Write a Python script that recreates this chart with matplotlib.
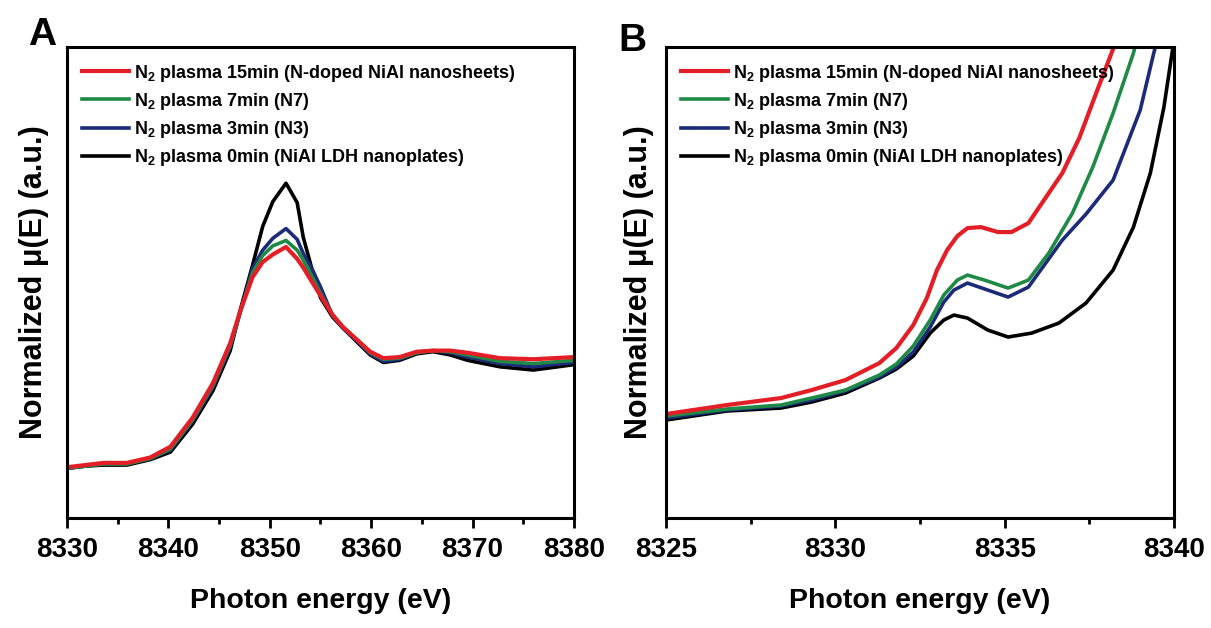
import matplotlib
matplotlib.use('Agg')
import matplotlib.pyplot as plt
from matplotlib.ticker import MultipleLocator

plt.rcParams['font.family'] = ['Liberation Sans', 'DejaVu Sans']
plt.rcParams['font.weight'] = 'bold'
plt.rcParams['axes.labelweight'] = 'bold'
plt.rcParams['mathtext.fontset'] = 'custom'
plt.rcParams['mathtext.rm'] = 'Liberation Sans:bold'
plt.rcParams['mathtext.bf'] = 'Liberation Sans:bold'
plt.rcParams['mathtext.it'] = 'Liberation Sans:bold'
plt.rcParams['mathtext.default'] = 'rm'

labels = ['N$_2$ plasma 15min (N-doped NiAl nanosheets)',
          'N$_2$ plasma 7min (N7)',
          'N$_2$ plasma 3min (N3)',
          'N$_2$ plasma 0min (NiAl LDH nanoplates)']
colors = ['#e41e26', '#1f8a45', '#1c2b78', '#000000']

# ---- panel A : full XANES (normalized units)
eA = [8330.0, 8331.8, 8333.6, 8335.9, 8338.2, 8340.2, 8342.4, 8344.4, 8346.1, 8347.1,
      8348.3, 8349.3, 8350.3, 8351.6, 8352.7, 8353.3, 8354.2, 8355.0, 8356.2, 8357.2,
      8358.6, 8359.9, 8361.2, 8362.8, 8364.5, 8366.1, 8367.8, 8369.5, 8372.7, 8376.0, 8380.0]
red_A = [-0.01, 0.01, 0.03, 0.03, 0.08, 0.18, 0.45, 0.77, 1.14, 1.44,
         1.75, 1.89, 1.96, 2.03, 1.92, 1.84, 1.70, 1.58, 1.40, 1.29,
         1.17, 1.06, 1.00, 1.01, 1.06, 1.07, 1.07, 1.05, 1.00, 0.99, 1.01]
green_A = [-0.02, 0.00, 0.02, 0.02, 0.07, 0.16, 0.43, 0.75, 1.12, 1.43,
           1.79, 1.95, 2.04, 2.09, 2.00, 1.91, 1.75, 1.60, 1.40, 1.29,
           1.17, 1.05, 0.99, 1.00, 1.05, 1.07, 1.06, 1.03, 0.97, 0.95, 0.98]
blue_A = [-0.02, 0.00, 0.02, 0.02, 0.07, 0.15, 0.42, 0.73, 1.10, 1.43,
          1.83, 2.00, 2.11, 2.20, 2.10, 1.97, 1.82, 1.66, 1.39, 1.28,
          1.16, 1.04, 0.97, 0.99, 1.05, 1.07, 1.05, 1.01, 0.95, 0.92, 0.96]
black_A = [-0.02, 0.00, 0.01, 0.01, 0.06, 0.13, 0.39, 0.70, 1.07, 1.45,
           1.86, 2.22, 2.45, 2.62, 2.44, 2.12, 1.81, 1.56, 1.38, 1.28,
           1.15, 1.03, 0.96, 0.98, 1.04, 1.06, 1.03, 0.98, 0.92, 0.89, 0.94]

# ---- panel B : pre-edge zoom (arbitrary units)
eB_red = [8325.0, 8326.8, 8328.4, 8329.3, 8330.3, 8331.3, 8331.8, 8332.3, 8332.7, 8333.0,
          8333.3, 8333.6, 8333.9, 8334.3, 8334.8, 8335.2, 8335.7, 8336.1, 8336.7, 8337.2,
          8337.7, 8338.3]
red_B = [0.006, 0.015, 0.022, 0.030, 0.040, 0.057, 0.072, 0.095, 0.122, 0.150,
         0.170, 0.184, 0.192, 0.193, 0.188, 0.188, 0.197, 0.217, 0.247, 0.282,
         0.327, 0.380]
eB_green = [8325.0, 8326.8, 8328.4, 8329.3, 8330.3, 8331.3, 8331.8, 8332.3, 8332.8, 8333.2,
            8333.6, 8333.9, 8334.4, 8335.1, 8335.7, 8336.3, 8337.0, 8337.6, 8338.2, 8338.8, 8338.9]
green_B = [0.004, 0.011, 0.015, 0.022, 0.030, 0.045, 0.056, 0.074, 0.100, 0.125,
           0.140, 0.145, 0.140, 0.132, 0.140, 0.167, 0.207, 0.253, 0.307, 0.367, 0.380]
eB_blue = [8325.0, 8326.8, 8328.4, 8329.3, 8330.3, 8331.3, 8331.8, 8332.3, 8332.8, 8333.2,
           8333.5, 8333.9, 8334.5, 8335.1, 8335.7, 8336.7, 8337.4, 8338.2, 8339.0, 8339.4, 8339.5]
blue_B = [0.002, 0.010, 0.014, 0.020, 0.029, 0.043, 0.053, 0.068, 0.093, 0.118,
          0.130, 0.137, 0.130, 0.123, 0.133, 0.180, 0.206, 0.240, 0.310, 0.367, 0.380]
eB_black = [8325.0, 8326.8, 8328.4, 8329.3, 8330.3, 8331.3, 8331.8, 8332.3, 8332.8, 8333.2,
            8333.5, 8333.9, 8334.5, 8335.1, 8335.8, 8336.6, 8337.4, 8338.2, 8338.8, 8339.3,
            8339.7, 8339.94, 8340.0]
black_B = [0.000, 0.009, 0.012, 0.018, 0.027, 0.042, 0.051, 0.064, 0.087, 0.100,
           0.105, 0.102, 0.090, 0.083, 0.087, 0.097, 0.117, 0.150, 0.193, 0.247,
           0.313, 0.367, 0.380]

fig = plt.figure(figsize=(12.11, 6.28), dpi=100)
axA = fig.add_axes([0.0553, 0.1752, 0.4187, 0.7497])
axB = fig.add_axes([0.5500, 0.1752, 0.4195, 0.7497])

seriesA = [red_A, green_A, blue_A, black_A]
seriesB = [(eB_red, red_B), (eB_green, green_B), (eB_blue, blue_B), (eB_black, black_B)]

for ax, panel in ((axA, 'A'), (axB, 'B')):
    handles = [None] * 4
    for i in (3, 2, 1, 0):
        if panel == 'A':
            x, y = eA, seriesA[i]
        else:
            x, y = seriesB[i]
        lw = 3.0 if i == 0 else 2.6
        handles[i], = ax.plot(x, y, color=colors[i], lw=lw, label=labels[i],
                              solid_joinstyle='round')
    ax.legend(handles, labels, loc='upper left', frameon=False,
              handlelength=2.6, handletextpad=0.28, labelspacing=0.4,
              borderaxespad=0.45, prop={'weight': 'bold', 'size': 13})
    for sp in ax.spines.values():
        sp.set_linewidth(2.2)
    ax.set_yticks([])
    ax.tick_params(axis='x', which='major', direction='out', length=7, width=2,
                   labelsize=20, pad=7)
    ax.tick_params(axis='x', which='minor', direction='out', length=4, width=2)
    ax.set_xlabel('Photon energy (eV)', fontsize=20.5, fontweight='bold', labelpad=18)

axA.set_ylabel('Normalized \u03bc(E) (a.u.)', fontsize=22, fontweight='bold', labelpad=13)
axB.set_ylabel('Normalized \u03bc(E) (a.u.)', fontsize=22, fontweight='bold', labelpad=9)

axA.set_xlim(8330, 8380)
axA.set_ylim(-0.48, 3.88)
axA.xaxis.set_major_locator(MultipleLocator(10))
axA.xaxis.set_minor_locator(MultipleLocator(5))

axB.set_xlim(8325, 8340)
axB.set_ylim(-0.098, 0.373)
axB.xaxis.set_major_locator(MultipleLocator(5))
axB.xaxis.set_minor_locator(MultipleLocator(2.5))

fig.text(0.035, 0.945, 'A', fontsize=28, fontweight='bold', ha='center', va='center')
fig.text(0.522, 0.935, 'B', fontsize=28, fontweight='bold', ha='center', va='center')

fig.savefig('out.png', dpi=100)
